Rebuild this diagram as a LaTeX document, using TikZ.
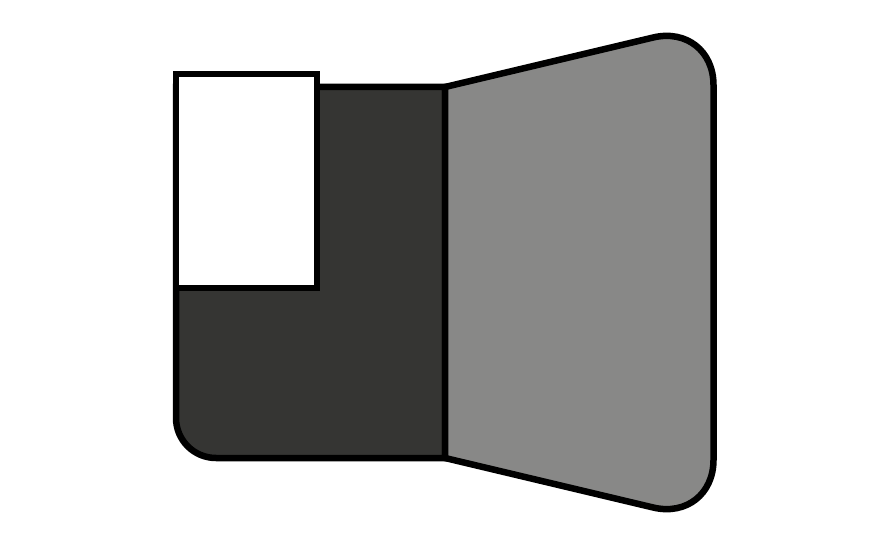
\documentclass[tikz,border=0pt]{standalone}
\definecolor{darkfill}{RGB}{53,53,51}
\definecolor{grayfill}{RGB}{136,136,135}
\tikzset{
  shapeline/.style={draw=black, line width=6.5pt, line join=miter},
}
\begin{document}
\begin{tikzpicture}[x=1pt,y=1pt]
  \useasboundingbox (0,0) rectangle (896,539);
  % dark L-shaped panel
  \filldraw[shapeline, fill=darkfill]
    (445,452) -- (176,452) -- (176,121)
    arc[start angle=180, end angle=270, radius=40] -- (445,81) -- cycle;
  % gray flared panel
  \filldraw[shapeline, fill=grayfill]
    (445,452) -- (653.2,501.5) .. controls (686.4,509.4) and (713.5,488.0) .. (713.5,453.9)
    -- (713.5,79.1) .. controls (713.5,45.0) and (686.4,23.6) .. (653.2,31.5)
    -- (445,81) -- cycle;
  % white rectangle
  \filldraw[shapeline, fill=white] (176,465) rectangle (317,251);
\end{tikzpicture}
\end{document}
